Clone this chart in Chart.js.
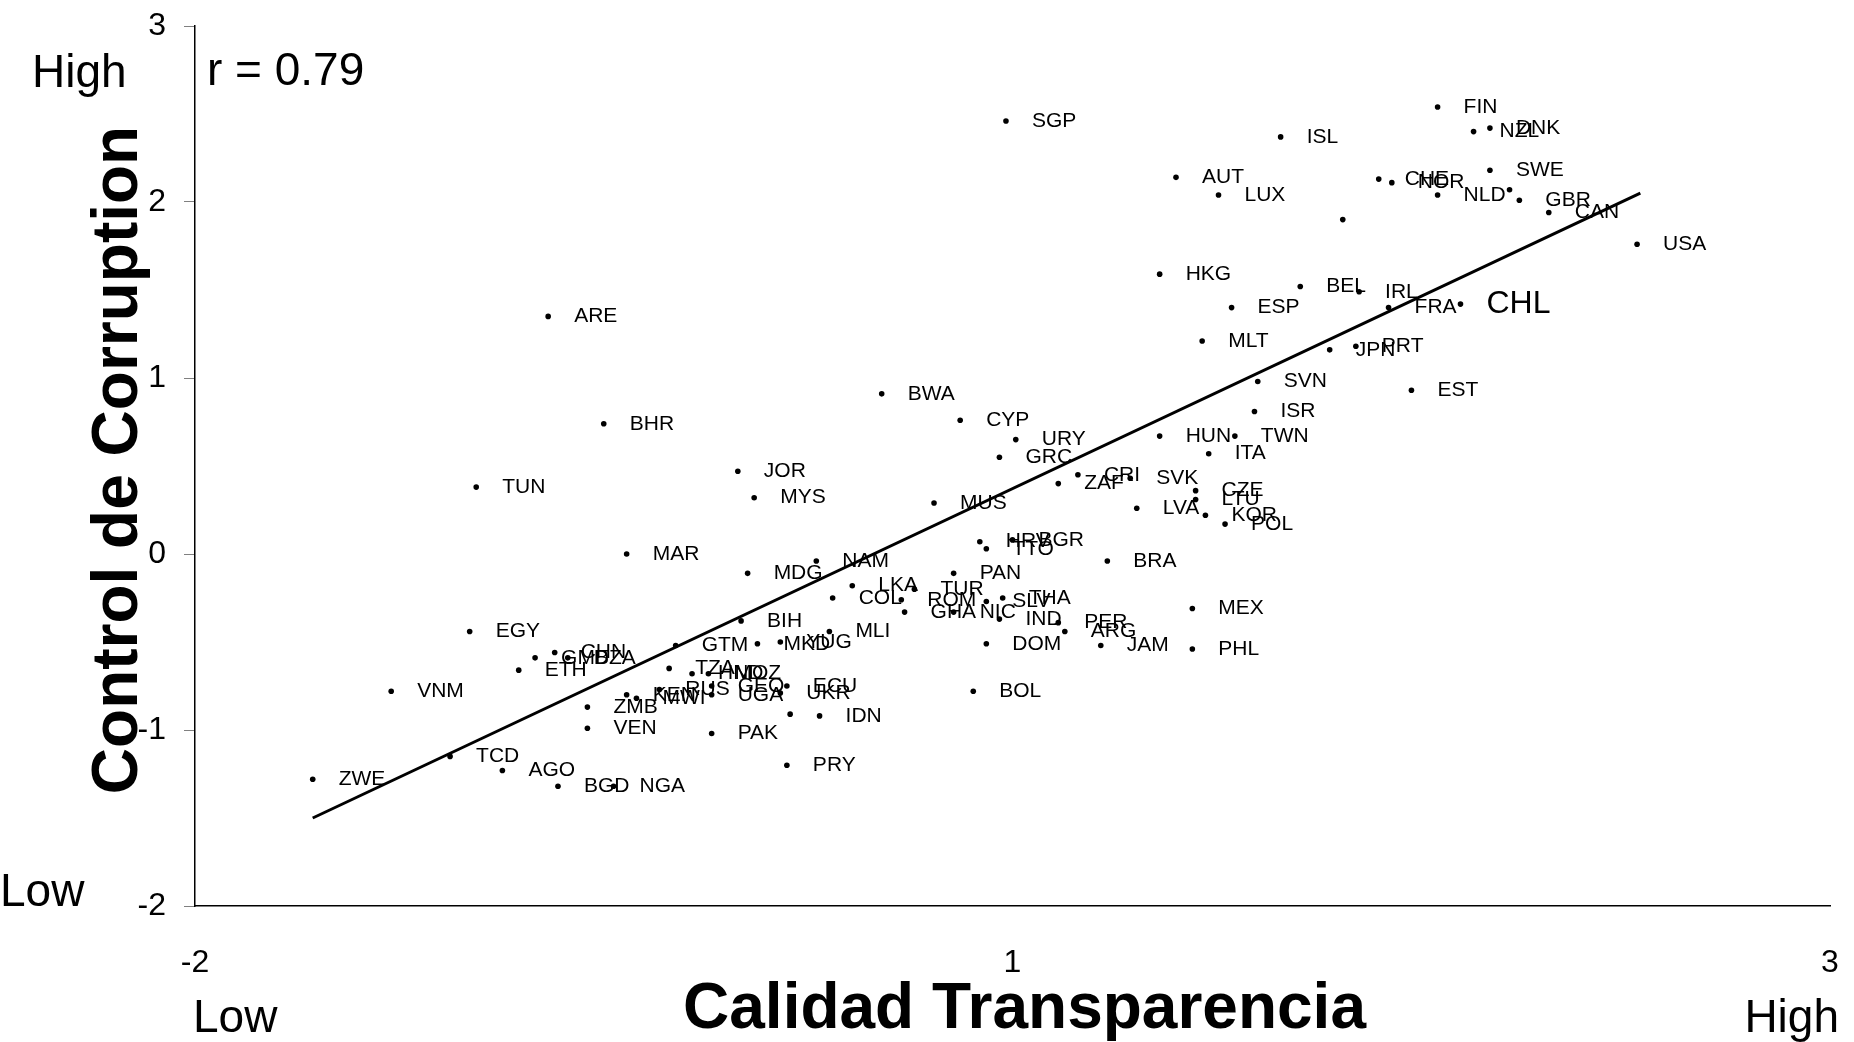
<!DOCTYPE html>
<html>
<head>
<meta charset="utf-8">
<script src="https://cdn.jsdelivr.net/npm/chart.js@4/dist/chart.umd.min.js"></script>
<style>
  body { margin: 0; background: #fff; }
  canvas { display: block; }
</style>
</head>
<body>
<canvas id="scatter" width="1854" height="1042"></canvas>
<script>
// country codes, transparency (x) and control of corruption (y)
const countries = ['FIN','ISL','NZL','DNK','AUT','LUX','CHE','NOR','NLD','SWE','','GBR','CAN','USA','',
  'SGP','HKG','BEL','IRL','ESP','FRA','CHL','MLT','JPN','PRT','SVN','EST','ISR','HUN','TWN','ITA',
  'ZAF','CRI','SVK','LVA','CZE','LTU','KOR','POL','BRA','MEX','PHL','JAM','PER','ARG','IND','NIC',
  'SLV','THA','PAN','TUR','LKA','ROM','GHA','COL','DOM','BOL','MLI','MDG','NAM','BIH','GTM','MKD',
  'YUG','EGY','CHN','GMB','DZA','ETH','VNM','ZWE','TCD','AGO','BGD','NGA','ZMB','VEN','KEN','MWI',
  'RUS','TZA','HND','MOZ','GEO','UGA','ECU','UKR','','IDN','PAK','PRY','ARE','BHR','TUN','JOR','MYS',
  'MAR','BWA','CYP','MUS','URY','GRC','HRV','TTO','BGR'];
const transparency = [1.80,1.32,1.91,1.96,1.00,1.13,1.62,1.66,1.80,1.96,2.02,2.05,2.14,2.41,1.51,
  0.48,0.95,1.38,1.56,1.17,1.65,1.87,1.08,1.47,1.55,1.25,1.72,1.24,0.95,1.18,1.10,
  0.64,0.70,0.86,0.88,1.06,1.06,1.09,1.15,0.79,1.05,1.05,0.77,0.64,0.66,0.46,0.32,
  0.42,0.47,0.32,0.20,0.01,0.16,0.17,-0.05,0.42,0.38,-0.06,-0.31,-0.10,-0.33,-0.53,-0.28,
  -0.21,-1.16,-0.90,-0.96,-0.86,-1.01,-1.40,-1.64,-1.22,-1.06,-0.89,-0.72,-0.80,-0.80,-0.68,-0.65,
  -0.58,-0.55,-0.48,-0.43,-0.42,-0.42,-0.19,-0.21,-0.18,-0.09,-0.42,-0.19,-0.92,-0.75,-1.14,-0.34,-0.29,
  -0.68,0.10,0.34,0.26,0.51,0.46,0.40,0.42,0.50];
const corruption = [2.54,2.37,2.40,2.42,2.14,2.04,2.13,2.11,2.04,2.18,2.07,2.01,1.94,1.76,1.90,
  2.46,1.59,1.52,1.49,1.40,1.40,1.42,1.21,1.16,1.18,0.98,0.93,0.81,0.67,0.67,0.57,
  0.40,0.45,0.43,0.26,0.36,0.31,0.22,0.17,-0.04,-0.31,-0.54,-0.52,-0.39,-0.44,-0.37,-0.33,
  -0.27,-0.25,-0.11,-0.20,-0.18,-0.26,-0.33,-0.25,-0.51,-0.78,-0.44,-0.11,-0.04,-0.38,-0.52,-0.51,
  -0.50,-0.44,-0.56,-0.59,-0.59,-0.66,-0.78,-1.28,-1.15,-1.23,-1.32,-1.32,-0.87,-0.99,-0.80,-0.82,
  -0.77,-0.65,-0.68,-0.68,-0.75,-0.80,-0.75,-0.79,-0.91,-0.92,-1.02,-1.20,1.35,0.74,0.38,0.47,0.32,
  0.00,0.91,0.76,0.29,0.65,0.55,0.07,0.03,0.08];

// fitted line (r = 0.79)
const fitX = [-1.64, 2.42];
const fitY = [-1.50, 2.05];

const xTickValues = [-2, 0.5, 3];
const xTickLabels = ['-2', '1', '3'];
const yTickValues = [-2, -1, 0, 1, 2, 3];

const FONT = '"Liberation Sans", Arial, sans-serif';
Chart.defaults.font.family = FONT;
Chart.defaults.color = '#000';

var points = countries.map(function (c, i) {
  return { x: transparency[i], y: corruption[i] };
});
var fitLine = fitX.map(function (x, i) { return { x: x, y: fitY[i] }; });

// no extra room for the end labels, the plot area is set by layout padding
function noScalePadding(scale) {
  scale.paddingTop = 0;
  scale.paddingBottom = 0;
  scale.paddingLeft = 0;
  scale.paddingRight = 0;
}

// country code next to every dot
const labelPlugin = {
  id: 'countryLabels',
  afterDatasetsDraw(chart) {
    const ctx = chart.ctx;
    const meta = chart.getDatasetMeta(1);
    ctx.save();
    ctx.fillStyle = '#000';
    ctx.textBaseline = 'middle';
    ctx.textAlign = 'left';
    meta.data.forEach(function (pt, i) {
      const name = countries[i];
      if (!name) return;
      ctx.font = (name === 'CHL' ? '32px ' : '21px ') + FONT;
      ctx.fillText(name, pt.x + 26, pt.y);
    });
    ctx.restore();
  }
};

// axis titles and the High / Low / r texts
const textPlugin = {
  id: 'axisTexts',
  afterDraw(chart) {
    const ctx = chart.ctx;
    const xs = chart.scales.x, ys = chart.scales.y;
    const area = chart.chartArea;
    ctx.save();
    ctx.fillStyle = '#000';
    ctx.textBaseline = 'alphabetic';

    ctx.font = '46px ' + FONT;
    ctx.textAlign = 'left';
    ctx.fillText('High', 32, ys.getPixelForValue(3) + 61);
    ctx.fillText('r = 0.79', area.left + 12, ys.getPixelForValue(3) + 59);
    ctx.fillText('Low', 0, ys.getPixelForValue(-2));
    ctx.fillText('Low', xs.getPixelForValue(-2) - 2, 1032);
    ctx.textAlign = 'right';
    ctx.fillText('High', xs.getPixelForValue(3) + 9, 1032);

    ctx.font = 'bold 64px ' + FONT;
    ctx.textAlign = 'center';
    ctx.textBaseline = 'middle';
    ctx.fillText('Calidad Transparencia', (area.left + area.right) / 2 + 12, 1010);
    ctx.translate(119, (area.top + area.bottom) / 2 - 6);
    ctx.rotate(-Math.PI / 2);
    ctx.fillText('Control de Corruption', 0, 0);
    ctx.restore();
  }
};

var ctx = document.getElementById('scatter').getContext('2d');
var myChart = new Chart(ctx, {
  type: 'scatter',
  data: {
    datasets: [{
      data: fitLine,
      showLine: true,
      borderColor: '#000',
      borderWidth: 3,
      pointRadius: 0,
      fill: false
    }, {
      data: points,
      backgroundColor: '#000',
      borderColor: '#000',
      borderWidth: 0,
      pointRadius: 2.8
    }]
  },
  options: {
    responsive: false,
    animation: false,
    layout: { padding: { top: 26, right: 24, left: 0, bottom: 0 } },
    plugins: {
      legend: { display: false },
      tooltip: { enabled: false }
    },
    scales: {
      x: {
        type: 'linear',
        min: -2,
        max: 3,
        afterBuildTicks: function (scale) {
          scale.ticks = xTickValues.map(function (v) { return { value: v }; });
        },
        afterFit: function (scale) {
          scale.height = 136;
          noScalePadding(scale);
        },
        ticks: {
          callback: function (value, index) { return xTickLabels[index]; },
          font: { size: 32 },
          color: '#000',
          padding: 38,
          maxRotation: 0,
          autoSkip: false
        },
        grid: { drawOnChartArea: false, drawTicks: false },
        border: { color: '#000', width: 1.5 }
      },
      y: {
        min: -2,
        max: 3,
        afterBuildTicks: function (scale) {
          scale.ticks = yTickValues.map(function (v) { return { value: v }; });
        },
        afterFit: function (scale) {
          scale.width = 195;
          noScalePadding(scale);
        },
        ticks: {
          font: { size: 32 },
          color: '#000',
          padding: 18
        },
        grid: { drawOnChartArea: false, tickLength: 11, color: '#808080' },
        border: { color: '#000', width: 1.5 }
      }
    }
  },
  plugins: [labelPlugin, textPlugin]
});
</script>
</body>
</html>
